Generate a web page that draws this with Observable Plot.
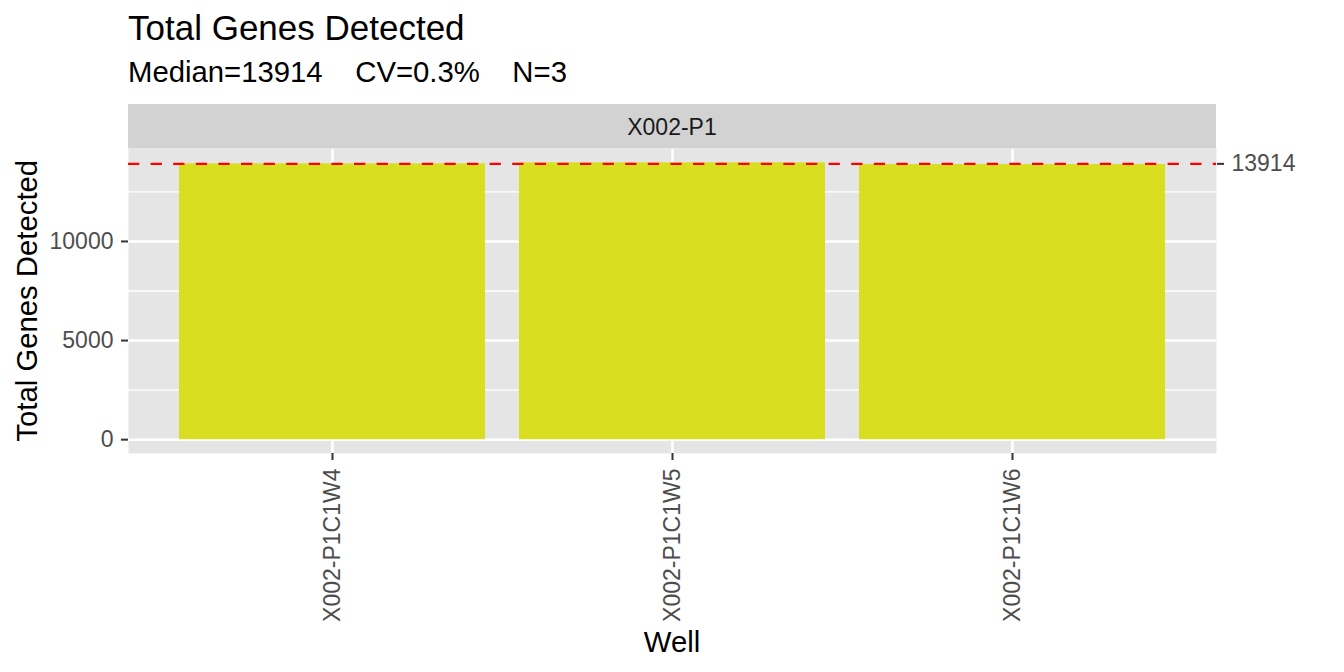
<!DOCTYPE html>
<html>
<head>
<meta charset="utf-8">
<script src="https://cdn.jsdelivr.net/npm/d3@7"></script>
<script src="https://cdn.jsdelivr.net/npm/@observablehq/plot@0.6"></script>
<style>
  html, body { margin: 0; padding: 0; background: #fff; }
  #chart { width: 1344px; height: 672px; }
  svg text { font-family: "Liberation Sans", Arial, Helvetica, sans-serif; }
</style>
</head>
<body>
<div id="chart"></div>
<script>
// ---- data ----
const plates = ["X002-P1"];
const wells = ["X002-P1C1W4", "X002-P1C1W5", "X002-P1C1W6"];
const genes = [13914, 13965, 13880];
const yTicks = [0, 5000, 10000];
const yMinorTicks = [2500, 7500, 12500];
const titleText = "Total Genes Detected";
const xTitle = "Well";
const yTitle = "Total Genes Detected";

// ---- derived ----
const data = wells.map((w, i) => ({ well: w, genes: genes[i], plate: plates[0] }));
const median = d3.median(genes);
const cv = d3.deviation(genes) / d3.mean(genes) * 100;
const subtitleText = `Median=${median}    CV=${cv.toFixed(1)}%    N=${genes.length}`;
const lo = Math.min(0, d3.min(genes)), hi = d3.max(genes);
const span = hi - lo;
const yDomain = [lo - 0.05 * span, hi + 0.05 * span];

const FONT = "'Liberation Sans', Arial, Helvetica, sans-serif";
const axisText = 23;

const chart = Plot.plot({
  width: 1344,
  height: 672,
  marginLeft: 128,
  marginRight: 128,
  marginTop: 148.5,
  marginBottom: 219,
  style: { fontFamily: FONT, background: "#fff", overflow: "visible" },
  x: { type: "band", domain: wells, paddingInner: 0.1, paddingOuter: 0.15, label: null },
  y: { domain: yDomain, label: null },
  marks: [
    Plot.frame({ fill: "#E5E5E5", stroke: "none" }),
    Plot.gridY(yMinorTicks, { stroke: "#fff", strokeOpacity: 1, strokeWidth: 1.3 }),
    Plot.gridY(yTicks, { stroke: "#fff", strokeOpacity: 1, strokeWidth: 2.5 }),
    Plot.gridX({ stroke: "#fff", strokeOpacity: 1, strokeWidth: 2.5 }),
    Plot.barY(data, { x: "well", y: "genes", fill: "#D9DE21" }),
    Plot.ruleY([median], { stroke: "#FF0000", strokeWidth: 2.4, strokeDasharray: "11.3,11.3" }),
    Plot.axisY({ ticks: yTicks, tickFormat: d => String(d), tickSize: 7, tickPadding: 8,
      stroke: "#333333", strokeWidth: 2, fill: "#4D4D4D", fontSize: axisText, label: null }),
    Plot.axisY({ anchor: "right", ticks: [median], tickFormat: d => String(d), tickSize: 7, tickPadding: 8,
      stroke: "#333333", strokeWidth: 2, fill: "#4D4D4D", fontSize: axisText, label: null }),
    Plot.axisX({ tickRotate: -90, tickSize: 7, tickPadding: 8,
      stroke: "#333333", strokeWidth: 2, fill: "#4D4D4D", fontSize: axisText, label: null })
  ]
});

document.getElementById("chart").appendChild(chart);

// ---- annotations (titles, facet strip) ----
const svg = d3.select(chart);
const xr = chart.scale("x").range;
const yr = chart.scale("y").range; // [bottom, top]
const left = Math.min(...xr), right = Math.max(...xr);
const panelTop = Math.min(...yr), panelBottom = Math.max(...yr);
const cx = (left + right) / 2;

svg.append("text").attr("x", left).attr("y", 39.5).attr("text-anchor", "start")
  .attr("font-size", 35).attr("fill", "#000").attr("font-family", FONT).text(titleText);
svg.append("text").attr("x", left).attr("y", 81.5).attr("text-anchor", "start")
  .attr("font-size", 29.3).attr("fill", "#000").attr("font-family", FONT)
  .attr("xml:space", "preserve").style("white-space", "pre").text(subtitleText);

const strip = svg.append("g");
strip.append("rect").attr("x", left).attr("y", 104).attr("width", right - left).attr("height", panelTop - 104)
  .attr("fill", "#D2D2D2");
strip.append("text").attr("x", cx).attr("y", 135).attr("text-anchor", "middle")
  .attr("font-size", axisText).attr("fill", "#1A1A1A").attr("font-family", FONT).text(plates[0]);

svg.append("text").attr("x", cx).attr("y", 651.5).attr("text-anchor", "middle")
  .attr("font-size", 29.3).attr("fill", "#000").attr("font-family", FONT).text(xTitle);
svg.append("text").attr("transform", `translate(37,${(panelTop + panelBottom) / 2}) rotate(-90)`)
  .attr("text-anchor", "middle")
  .attr("font-size", 29.3).attr("fill", "#000").attr("font-family", FONT).text(yTitle);
</script>
</body>
</html>
